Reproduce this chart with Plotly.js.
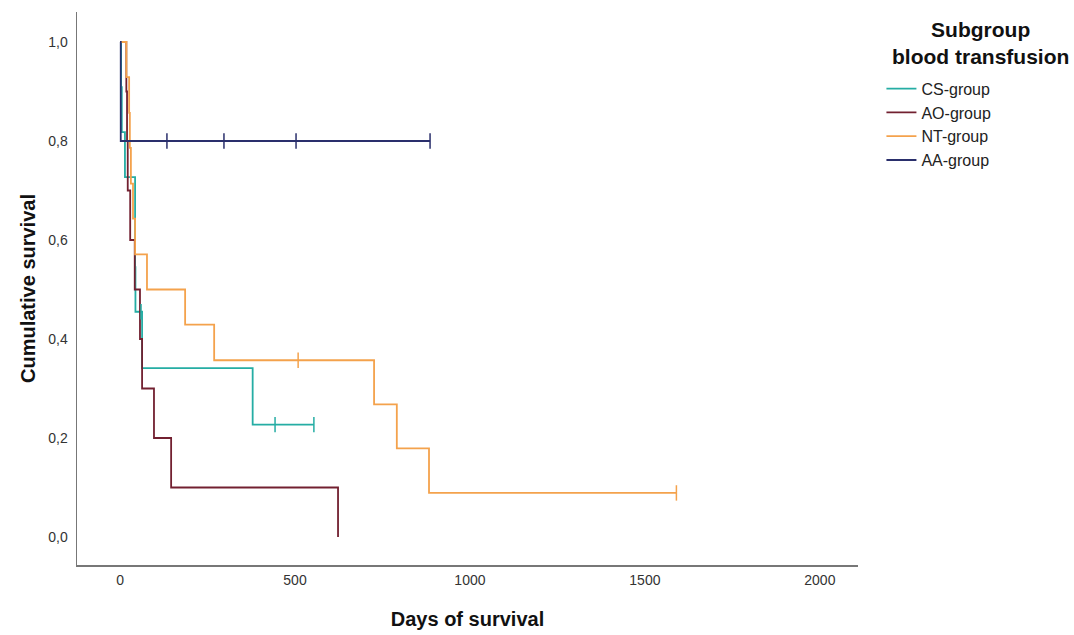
<!DOCTYPE html>
<html>
<head>
<meta charset="utf-8">
<script src="https://cdn.plot.ly/plotly-3.0.1.min.js"></script>
<style>html,body{margin:0;padding:0;background:#fff;}#chart{width:1074px;height:635px;}</style>
</head>
<body>
<div id="chart"></div>
<script>
// ---- data ----
const groupNames = ["CS-group", "AO-group", "NT-group", "AA-group"];
const groupColors = ["#25ADA4", "#722030", "#F4A24C", "#2A2F6C"];

const csDays = [0, 3, 5, 14, 43, 44, 63, 379, 554];
const csSurv = [1.0, 0.909, 0.818, 0.727, 0.545, 0.455, 0.341, 0.227, 0.227];
const csCensor = [60, 443, 554];

const aoDays = [0, 18, 20, 22, 29, 42, 57, 63, 97, 146, 623];
const aoSurv = [1.0, 0.9, 0.8, 0.7, 0.6, 0.5, 0.4, 0.3, 0.2, 0.1, 0.0];
const aoCensor = [];

const ntDays = [0, 18, 26, 28, 31, 37, 43, 77, 186, 269, 726, 791, 883, 1590];
const ntSurv = [1.0, 0.929, 0.857, 0.786, 0.714, 0.643, 0.571, 0.5, 0.429, 0.357, 0.268, 0.179, 0.089, 0.089];
const ntCensor = [509, 1590];

const aaDays = [0, 2, 886];
const aaSurv = [1.0, 0.8, 0.8];
const aaCensor = [134, 297, 503, 886];

const xTicks = [0, 500, 1000, 1500, 2000];
const yTicks = [0.0, 0.2, 0.4, 0.6, 0.8, 1.0];
const legendTitle = "Subgroup<br>blood transfusion";

// ---- build traces ----
const groups = [
  [csDays, csSurv, csCensor],
  [aoDays, aoSurv, aoCensor],
  [ntDays, ntSurv, ntCensor],
  [aaDays, aaSurv, aaCensor]
];
function survAt(days, surv, t) {
  let s = surv[0];
  for (let i = 0; i < days.length; i++) { if (days[i] <= t) s = surv[i]; }
  return s;
}
const traces = [];
groups.forEach((g, i) => {
  traces.push({
    x: g[0], y: g[1], type: "scatter", mode: "lines",
    line: {shape: "hv", color: groupColors[i], width: 1.8},
    name: groupNames[i], legendgroup: groupNames[i], showlegend: true,
    hoverinfo: "skip"
  });
});
groups.forEach((g, i) => {
  if (g[2].length === 0) return;
  traces.push({
    x: g[2], y: g[2].map(t => survAt(g[0], g[1], t)), type: "scatter", mode: "markers",
    marker: {symbol: "line-ns", size: 11, line: {color: groupColors[i], width: 1.5}},
    name: groupNames[i], legendgroup: groupNames[i], showlegend: false,
    hoverinfo: "skip"
  });
});

const boldFont = {size: 20, color: "#111", family: "Liberation Sans, Arial, sans-serif", weight: "bold"};
const layout = {
  width: 1074, height: 635,
  margin: {l: 77, r: 216, t: 12, b: 70},
  paper_bgcolor: "#fff", plot_bgcolor: "#fff",
  separators: ", ",
  font: {family: "Liberation Sans, Arial, sans-serif", color: "#222"},
  showlegend: true,
  xaxis: {
    range: [-123, 2109], tickvals: xTicks, ticktext: xTicks.map(String),
    showgrid: false, zeroline: false, showline: true, linecolor: "#777", linewidth: 1.5,
    ticks: "", tickfont: {size: 14, color: "#333"}, ticklabelstandoff: 2,
    title: {text: "Days of survival", font: boldFont, standoff: 24}
  },
  yaxis: {
    range: [-0.0566, 1.0606], tickvals: yTicks, tickformat: ".1f",
    showgrid: false, zeroline: false, showline: true, linecolor: "#777", linewidth: 1.5,
    ticks: "", tickfont: {size: 14, color: "#333"}, ticklabelstandoff: 5,
    title: {text: "Cumulative survival", font: boldFont, standoff: 7}
  },
  legend: {
    x: 1.03, y: 0.892, xanchor: "left", yanchor: "top",
    font: {size: 16, color: "#222"},
    itemwidth: 30, tracegroupgap: 0, bgcolor: "rgba(0,0,0,0)"
  },
  annotations: [{
    text: legendTitle, xref: "paper", yref: "paper", x: 1.157, y: 0.992,
    xanchor: "center", yanchor: "top", align: "center", showarrow: false,
    font: {size: 21, color: "#111", weight: "bold"}
  }]
};

Plotly.newPlot("chart", traces, layout, {displayModeBar: false, staticPlot: true});
</script>
</body>
</html>
